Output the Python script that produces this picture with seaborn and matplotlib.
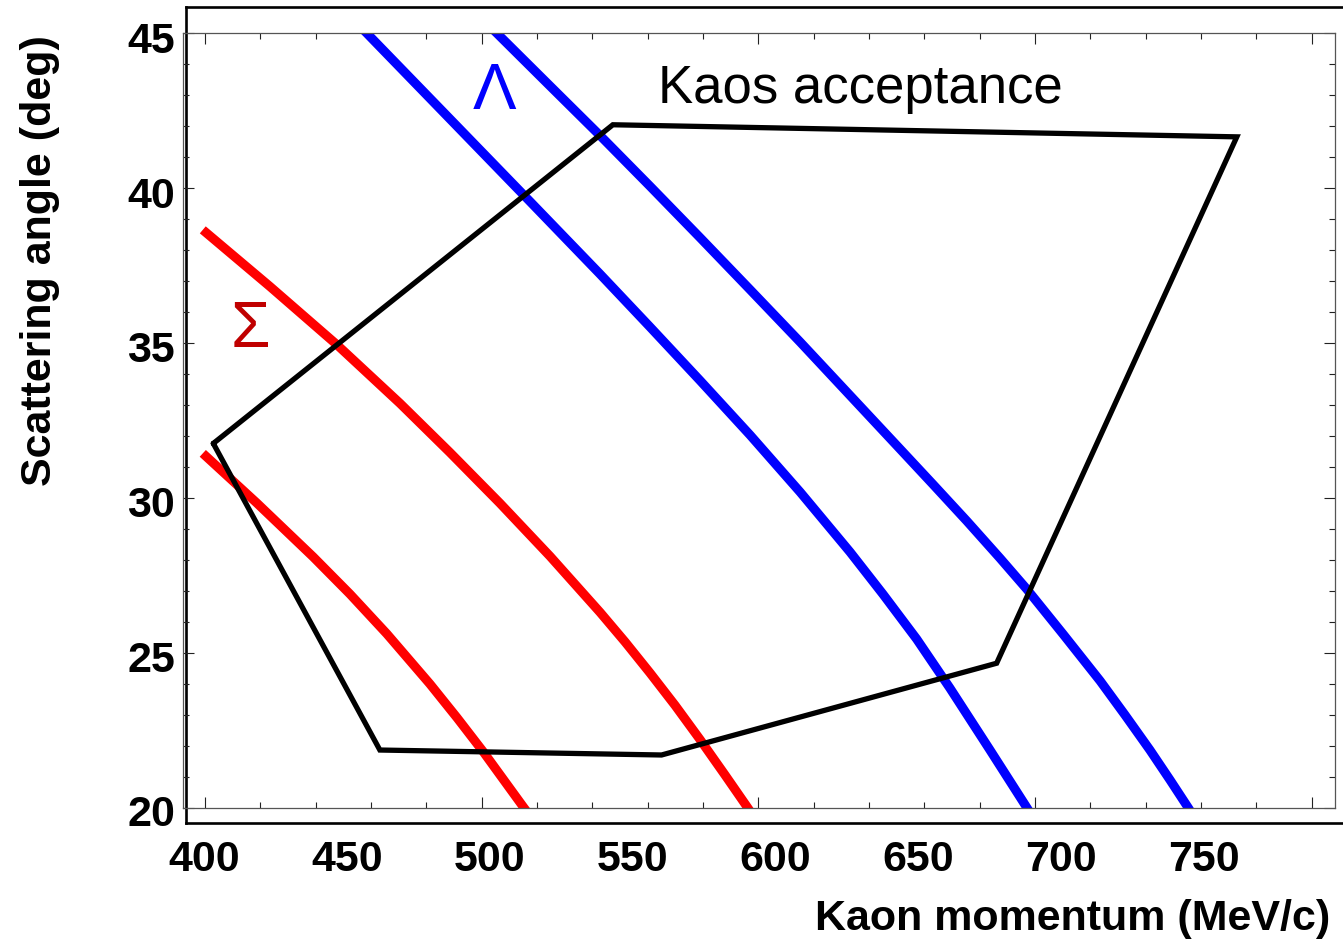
import numpy as np
import pandas as pd
import matplotlib
matplotlib.use("Agg")
import matplotlib.pyplot as plt
from matplotlib.ticker import MultipleLocator
import seaborn as sns

# Kinematic curves: kaon momentum (MeV/c) vs scattering angle (deg)
sigma_low_p = [399.2, 418.7, 439.1, 452.4, 465.7, 481.3, 491.1, 500.6, 515.0, 517.0]
sigma_low_th = [31.44, 29.84, 28.10, 26.90, 25.62, 24.00, 22.91, 21.81, 20.04, 19.8]

sigma_high_p = [399.2, 423.5, 447.6, 470.5, 488.5, 506.6, 524.7, 542.8, 551.8,
                560.8, 569.9, 578.9, 587.9, 596.2, 597.7]
sigma_high_th = [38.65, 36.82, 34.95, 33.05, 31.47, 29.83, 28.12, 26.31, 25.36,
                 24.36, 23.31, 22.21, 21.07, 20.0, 19.8]

lambda_low_p = [455.1, 458.4, 488.5, 517.5, 542.8, 560.8, 578.9, 597.0, 615.1,
                633.1, 645.0, 657.2, 669.2, 683.7, 697.1, 698.5]
lambda_low_th = [45.3, 45.0, 42.23, 39.56, 37.22, 35.52, 33.79, 32.03, 30.19,
                 28.26, 26.90, 25.45, 23.87, 21.87, 20.0, 19.8]

lambda_high_p = [502.0, 505.4, 524.7, 542.8, 560.8, 578.9, 597.0, 615.1, 633.1,
                 651.2, 663.1, 675.3, 687.3, 697.0, 710.1, 723.5, 732.5, 741.5,
                 748.8, 755.4, 756.8]
lambda_high_th = [45.3, 45.0, 43.29, 41.69, 40.06, 38.40, 36.72, 35.03, 33.31,
                  31.58, 30.44, 29.26, 28.06, 27.06, 25.61, 24.10, 23.00, 21.87,
                  20.90, 20.0, 19.8]

# Kaos spectrometer acceptance polygon (closed)
accept_p = [403.0, 547.4, 772.9, 686.1, 565.0, 463.2, 403.0]
accept_th = [31.76, 42.04, 41.65, 24.67, 21.71, 21.87, 31.76]

x_ticklabels = [400, 450, 500, 550, 600, 650, 700, 750]
y_ticklabels = [20, 25, 30, 35, 40, 45]

sns.set_style("white")
plt.rcParams["font.family"] = ["Liberation Sans", "DejaVu Sans"]
plt.rcParams["text.color"] = "black"
plt.rcParams["xtick.color"] = "black"
plt.rcParams["ytick.color"] = "black"
plt.rcParams["xtick.labelcolor"] = "black"
plt.rcParams["ytick.labelcolor"] = "black"
plt.rcParams["axes.labelcolor"] = "black"

W, H = 1343, 942
fig = plt.figure(figsize=(W / 100, H / 100), dpi=100)


def rect(l, t, r, b):
    return [l / W, 1 - b / H, (r - l) / W, (b - t) / H]


# Outer frame carrying the tick labels
ax_frame = fig.add_axes(rect(186, 7, 1352, 823))
ax_frame.set_xlim(400 - 18 / 2.857, 400 + (1352 - 204) / 2.857)
ax_frame.set_ylim(20 - 12 / 30.95, 20 + 804 / 30.95)
ax_frame.set_xticks(x_ticklabels)
ax_frame.set_xticklabels([str(v) for v in x_ticklabels])
ax_frame.set_yticks(y_ticklabels)
ax_frame.set_yticklabels([str(v) for v in y_ticklabels])
ax_frame.tick_params(axis="both", length=0, labelsize=31, labelcolor="black")
ax_frame.tick_params(axis="x", pad=12)
ax_frame.tick_params(axis="y", pad=8)
for lab in ax_frame.get_xticklabels() + ax_frame.get_yticklabels():
    lab.set_fontweight("bold")
for sp in ax_frame.spines.values():
    sp.set_color("black")
    sp.set_linewidth(1.9)
ax_frame.set_facecolor("white")

# Inner data frame
ax = fig.add_axes(rect(183, 33, 1335, 808), zorder=2)
ax.patch.set_alpha(0)
ax.set_xlim(400 - 22 / 2.767, 400 + 1130 / 2.767)
ax.set_ylim(20, 45)

lw_curve = 6.6
sns.lineplot(x=sigma_low_p, y=sigma_low_th, sort=False, estimator=None,
             color="#ff0000", lw=lw_curve, ax=ax, solid_capstyle="butt")
sns.lineplot(x=sigma_high_p, y=sigma_high_th, sort=False, estimator=None,
             color="#ff0000", lw=lw_curve, ax=ax, solid_capstyle="butt")
sns.lineplot(x=lambda_low_p, y=lambda_low_th, sort=False, estimator=None,
             color="#0000ff", lw=lw_curve, ax=ax, solid_capstyle="butt")
sns.lineplot(x=lambda_high_p, y=lambda_high_th, sort=False, estimator=None,
             color="#0000ff", lw=lw_curve, ax=ax, solid_capstyle="butt")
sns.lineplot(x=accept_p, y=accept_th, sort=False, estimator=None,
             color="black", lw=3.8, ax=ax, solid_joinstyle="miter")

ax.set_xticks(range(400, 801, 100))
ax.xaxis.set_minor_locator(MultipleLocator(20))
ax.yaxis.set_major_locator(MultipleLocator(5))
ax.yaxis.set_minor_locator(MultipleLocator(1))
ax.tick_params(which="both", direction="in", top=True, right=True,
               bottom=True, left=True, labelbottom=False, labelleft=False,
               color="#222222", width=0.8)
ax.tick_params(which="major", length=7.6)
ax.tick_params(which="minor", length=4.4)
ax.set_xlabel("")
ax.set_ylabel("")
for sp in ax.spines.values():
    sp.set_color("#555555")
    sp.set_linewidth(0.9)

# Annotations
ax.text(563.7, 42.74, "Kaos acceptance", fontsize=38, color="black",
        ha="left", va="baseline")
ax.text(496.6, 42.55, "\u039b", fontsize=47, color="#0000ff",
        ha="left", va="baseline")
ax.text(409.4, 34.87, "\u03a3", fontsize=46, color="#c00000",
        ha="left", va="baseline")

# Axis titles
fig.text(1330 / W, 1 - 930 / H, "Kaon momentum (MeV/c)", fontsize=31,
         fontweight="bold", color="black", ha="right", va="baseline")
fig.text(51 / W, 1 - 35 / H, "Scattering angle (deg)", fontsize=31,
         fontweight="bold", color="black", rotation=90, rotation_mode="anchor",
         ha="right", va="baseline")

fig.savefig("out.png", dpi=100, facecolor="white")
